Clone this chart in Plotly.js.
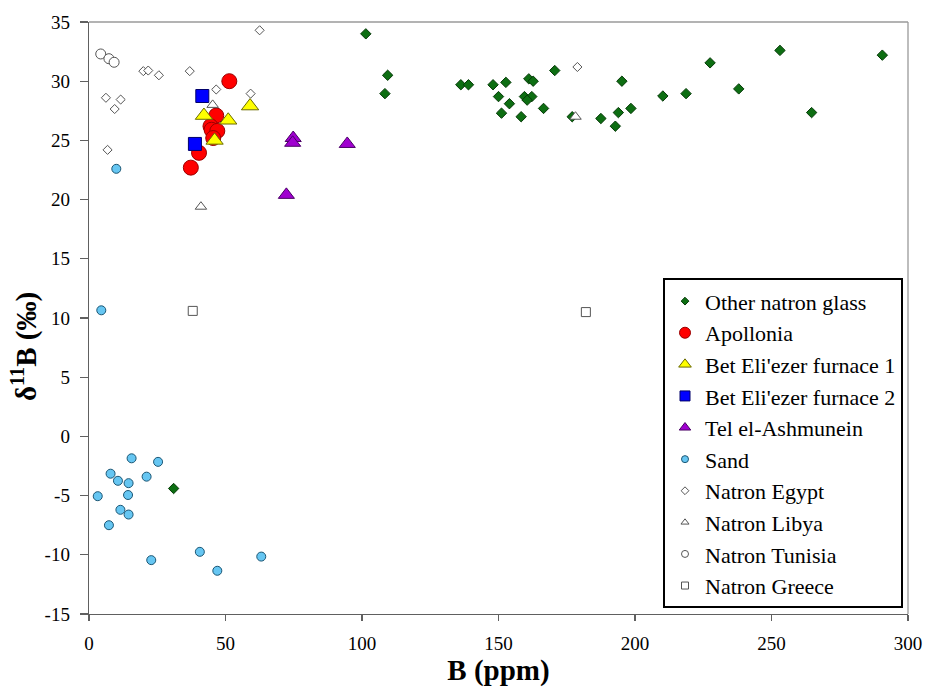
<!DOCTYPE html>
<html>
<head>
<meta charset="utf-8">
<script src="https://cdn.plot.ly/plotly-3.0.1.min.js"></script>
<style>html,body{margin:0;padding:0;background:#fff;}#chart{width:925px;height:698px;}</style>
</head>
<body>
<div id="chart"></div>
<script>
// ---- Data ----
const seriesNames = ["Other natron glass","Apollonia","Bet Eli'ezer furnace 1","Bet Eli'ezer furnace 2","Tel el-Ashmunein","Sand","Natron Egypt","Natron Libya","Natron Tunisia","Natron Greece"];

const otherX = [101.4,109.4,108.4,136.2,139.0,148.0,152.7,150.0,154.0,151.1,158.3,161.1,162.7,159.5,162.2,160.5,166.5,170.6,177.0,187.5,192.8,193.9,195.2,198.5,210.2,218.7,227.5,238.0,253.1,264.7,290.6,31.0];
const otherY = [34.0,30.5,28.95,29.7,29.7,29.7,29.9,28.7,28.1,27.3,27.0,30.2,30.0,28.7,28.7,28.4,27.7,30.9,27.0,26.85,26.2,27.35,30.0,27.7,28.75,28.95,31.55,29.35,32.6,27.35,32.2,-4.4];

const apolloX = [51.4,46.6,44.5,44.9,47.0,45.5,40.3,37.3];
const apolloY = [30.0,27.1,26.2,25.9,25.8,25.2,23.95,22.7];

const bet1X = [42.1,51.0,59.0,46.0];
const bet1Y = [27.1,26.7,27.9,25.0];

const bet2X = [41.5,38.8];
const bet2Y = [28.75,24.7];

const telX = [74.8,74.6,94.6,72.3];
const telY = [25.2,24.8,24.7,20.4];

const sandX = [15.6,25.3,7.9,10.6,14.5,21.1,3.2,14.3,11.5,14.5,7.3,22.8,40.6,47.0,63.1,10.0,4.5];
const sandY = [-1.85,-2.15,-3.15,-3.75,-3.95,-3.4,-5.05,-4.95,-6.2,-6.6,-7.5,-10.45,-9.75,-11.35,-10.15,22.6,10.65];

const egyptX = [62.5,19.9,21.7,25.6,36.9,46.6,59.2,6.2,11.6,9.4,6.8,178.9];
const egyptY = [34.3,30.85,30.9,30.5,30.85,29.3,28.95,28.6,28.45,27.65,24.2,31.2];

const libyaX = [41.0,45.3,178.2];
const libyaY = [19.4,28.0,27.0];

const tunisiaX = [4.3,7.3,9.2];
const tunisiaY = [32.3,31.9,31.6];

const greeceX = [38.0,182.0];
const greeceY = [10.6,10.5];

const xTickVals = [0,50,100,150,200,250,300];
const yTickVals = [-15,-10,-5,0,5,10,15,20,25,30,35];

const xTitle = 'B (ppm)';
const yTitle = 'δ<sup>11</sup>B (‰)';

// ---- Styles ----
const styles = [
  {symbol:'diamond', color:'#0d6e12', line:'#063a08', size:8, lsize:6},
  {symbol:'circle', color:'#ff0000', line:'#9a0000', size:15, lsize:11},
  {symbol:'triangle-up', color:'#ffff00', line:'#6b6b00', size:15, lsize:11},
  {symbol:'square', color:'#0000ff', line:'#00006b', size:13, lsize:10},
  {symbol:'triangle-up', color:'#a000d0', line:'#4a0066', size:14, lsize:10},
  {symbol:'circle', color:'#66c6f2', line:'#1b5674', size:9, lsize:7},
  {symbol:'diamond', color:'#ffffff', line:'#555555', size:7, lsize:6},
  {symbol:'triangle-up', color:'#ffffff', line:'#555555', size:10, lsize:7},
  {symbol:'circle', color:'#ffffff', line:'#555555', size:10, lsize:7},
  {symbol:'square', color:'#ffffff', line:'#555555', size:9, lsize:7}
];
const xs = [otherX,apolloX,bet1X,bet2X,telX,sandX,egyptX,libyaX,tunisiaX,greeceX];
const ys = [otherY,apolloY,bet1Y,bet2Y,telY,sandY,egyptY,libyaY,tunisiaY,greeceY];

const traces = [];
seriesNames.forEach((name,i)=>{
  const s = styles[i];
  traces.push({
    type:'scatter', mode:'markers', name:name, x:xs[i], y:ys[i],
    showlegend:false, legendgroup:'g'+i,
    marker:{symbol:s.symbol, color:s.color, size:s.size, line:{color:s.line, width:1}}
  });
});
// legend-only entries with smaller symbols (as in the reference legend)
seriesNames.forEach((name,i)=>{
  const s = styles[i];
  traces.push({
    type:'scatter', mode:'markers', name:name, x:[null], y:[null],
    showlegend:true, legendgroup:'g'+i,
    marker:{symbol:s.symbol, color:s.color, size:s.lsize, line:{color:s.line, width:1}}
  });
});

const serif = 'Times New Roman, Liberation Serif, serif';
const axisCol = '#606060';

const layout = {
  width:925, height:698,
  margin:{l:89, r:17, t:22, b:84},
  paper_bgcolor:'#ffffff', plot_bgcolor:'#ffffff',
  font:{family:serif, color:'#000000', size:19, weight:'normal'},
  showlegend:true,
  xaxis:{
    range:[0,300], tickvals:xTickVals, ticktext:xTickVals.map(String),
    showgrid:false, zeroline:false, showline:true, linecolor:axisCol, linewidth:1.3,
    ticks:'outside', ticklen:6, tickcolor:axisCol, tickwidth:1.3,
    tickfont:{family:serif, size:19, color:'#000', weight:'normal'}, ticklabelstandoff:6,
    title:{text:'<b>'+xTitle+'</b>', font:{family:serif, size:29, color:'#000'}, standoff:0}
  },
  yaxis:{
    range:[-15,35], tickvals:yTickVals, ticktext:yTickVals.map(String),
    showgrid:false, zeroline:false, showline:true, linecolor:axisCol, linewidth:1.3,
    ticks:'outside', ticklen:8, tickcolor:axisCol, tickwidth:1.3,
    tickfont:{family:serif, size:19, color:'#000', weight:'normal'}, ticklabelstandoff:6
  },
  annotations:[
    {text:'<b>'+yTitle+'</b>', xref:'paper', yref:'paper', x:-0.0794, y:0.4527,
     xanchor:'center', yanchor:'middle', textangle:-90, showarrow:false,
     font:{family:serif, size:29, color:'#000'}}
  ],
  legend:{
    x:0.9939, xanchor:'right', y:0.567, yanchor:'top',
    xref:'paper', yref:'paper',
    bgcolor:'#ffffff', bordercolor:'#000000', borderwidth:2,
    font:{family:serif, size:22, color:'#000', weight:'normal'},
    itemwidth:30, tracegroupgap:0, traceorder:'normal'
  },
  shapes:[
    {type:'line', xref:'paper', yref:'paper', x0:0, x1:1, y0:1, y1:1, line:{color:'#9a9a9a', width:1.3}},
    {type:'line', xref:'paper', yref:'paper', x0:1, x1:1, y0:0, y1:1, line:{color:'#9a9a9a', width:1.3}}
  ]
};

Plotly.newPlot('chart', traces, layout, {displayModeBar:false, staticPlot:true});
</script>
</body>
</html>
